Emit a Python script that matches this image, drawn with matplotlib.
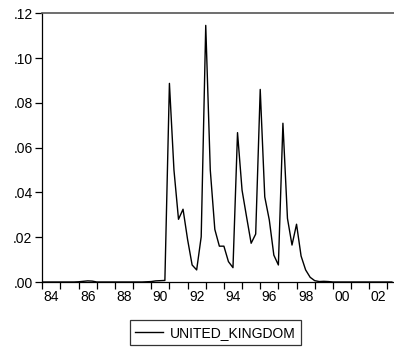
import matplotlib
matplotlib.use("Agg")
import matplotlib.pyplot as plt
from matplotlib.ticker import FixedLocator, FuncFormatter, NullFormatter

plt.rcParams['font.family'] = ['Liberation Sans', 'DejaVu Sans']

# Quarterly series, 1984Q1 .. 2003Q2
start_year = 1984
series_name = "UNITED_KINGDOM"
values = [
    0, 0, 0, 0, 0, 0, 0, 0,                                   # 1984-1985
    0.0001, 0.0003, 0.0005, 0.0004, 0, 0, 0, 0,               # 1986-1987
    0, 0, 0, 0, 0, 0, 0, 0.0001,                              # 1988-1989
    0.0002, 0.0005, 0.0006, 0.0007,                           # 1990
    0.0887, 0.050, 0.028, 0.0325,                             # 1991
    0.019, 0.0076, 0.0054, 0.0202,                            # 1992
    0.1146, 0.050, 0.0235, 0.016,                             # 1993
    0.016, 0.0091, 0.0064, 0.0667,                            # 1994
    0.041, 0.029, 0.0173, 0.0214,                             # 1995
    0.086, 0.038, 0.0277, 0.012,                              # 1996
    0.0076, 0.0709, 0.0284, 0.0165,                           # 1997
    0.0258, 0.0116, 0.0054, 0.0021,                           # 1998
    0.0006, 0.0002, 0.0003, 0.0002,                           # 1999
    0, 0, 0, 0,                                               # 2000
    0, 0, 0, 0,                                               # 2001
    0, 0, 0, 0,                                               # 2002
    0, 0,                                                     # 2003
]
year_labels = ["84", "86", "88", "90", "92", "94", "96", "98", "00", "02"]
y_ticks = [0.00, 0.02, 0.04, 0.06, 0.08, 0.10, 0.12]

dates = [start_year + i / 4 for i in range(len(values))]

W, H = 394, 350
fig = plt.figure(figsize=(W / 100, H / 100), dpi=100)
left_px, right_px, top_px, bottom_px = 42.3, 394.0, 13.3, 282.0
ax = fig.add_axes([left_px / W, 1 - bottom_px / H,
                   (right_px - left_px) / W, (bottom_px - top_px) / H])

line, = ax.plot(dates, values, color='black', lw=1.0, label=series_name)

px_per_year = 18.16
ax.set_xlim(start_year, start_year + (right_px - left_px) / px_per_year)
ax.set_ylim(0, 0.12)

# yearly ticks, labels centred on every second year
ax.xaxis.set_major_locator(FixedLocator(list(range(1984, 2004))))
ax.xaxis.set_major_formatter(NullFormatter())
label_pos = [1984.5 + 2 * i for i in range(len(year_labels))]
ax.xaxis.set_minor_locator(FixedLocator(label_pos))
ax.xaxis.set_minor_formatter(FuncFormatter(lambda v, p: year_labels[p] if p < len(year_labels) else ""))
ax.tick_params(axis='x', which='major', direction='out', length=5, width=0.9, color='black')
ax.tick_params(axis='x', which='minor', length=0, pad=6, labelsize=10)

ax.yaxis.set_major_locator(FixedLocator(y_ticks))
ax.yaxis.set_major_formatter(FuncFormatter(lambda v, p: f"{v:.2f}".lstrip('0')))
ax.tick_params(axis='y', direction='out', length=5, width=0.9, labelsize=10, pad=2)

ax.spines['right'].set_visible(False)
ax.spines['top'].set_color('#555555')
ax.spines['top'].set_linewidth(1.2)
ax.spines['left'].set_linewidth(0.9)
ax.spines['bottom'].set_linewidth(0.9)

leg = fig.legend(handles=[line], loc='center',
                 bbox_to_anchor=(215.4 / W, 1 - 332.9 / H),
                 fontsize=10, frameon=True, fancybox=False,
                 handlelength=2.0, handletextpad=0.5, borderpad=0.4)
leg.get_frame().set_edgecolor('black')
leg.get_frame().set_linewidth(0.9)

fig.savefig("out.png", dpi=100)
